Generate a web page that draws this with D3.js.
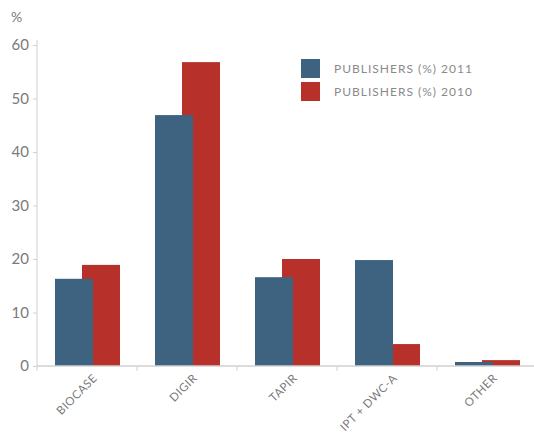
<!DOCTYPE html>
<html><head><meta charset="utf-8">
<script src="https://cdn.jsdelivr.net/npm/d3@7"></script>
<style>
body{margin:0;background:#fff;}
text{font-family:Lato,"Open Sans",sans-serif;}
</style></head>
<body><svg id="c" width="534" height="436"></svg>
<script>
const categories = ["BIOCASE","DIGIR","TAPIR","IPT + DWC-A","OTHER"];
const pub2011 = [16.3, 46.9, 16.6, 19.8, 0.75];
const pub2010 = [18.9, 56.8, 20.0, 4.1, 1.1];
const seriesNames = ["PUBLISHERS (%) 2011","PUBLISHERS (%) 2010"];
const yTicks = [0,10,20,30,40,50,60];
const colors = ["#3d6380","#b8302a"];

const svg = d3.select("#c");
const x = d3.scaleBand().domain(categories).range([37,537]);
const y = d3.scaleLinear().domain([0,60]).range([366,45]);
const bw = x.bandwidth();
const barW = bw*0.38;
const off2011 = bw*0.18, off2010 = bw*0.45;

// y axis
const ya = svg.append("g").attr("transform","translate(37,0)")
  .call(d3.axisLeft(y).tickValues(yTicks).tickSize(4).tickPadding(4));
ya.select(".domain").attr("d","M0,40V366").attr("stroke","#d0d0d0");
ya.selectAll(".tick line").attr("stroke","#d0d0d0");
ya.selectAll(".tick text").attr("fill","#7a7a7a").style("font-size","15px").style("font-family","Lato,sans-serif");

svg.append("text").attr("x",11).attr("y",22).text("%").attr("fill","#7a7a7a").style("font-size","14px");

// bars: 2010 below, 2011 on top
svg.append("g").selectAll("rect").data(categories).join("rect")
  .attr("x",(d)=>x(d)+off2010).attr("width",barW)
  .attr("y",(d,i)=>y(pub2010[i])).attr("height",(d,i)=>y(0)-y(pub2010[i]))
  .attr("fill",colors[1]);
svg.append("g").selectAll("rect").data(categories).join("rect")
  .attr("x",(d)=>x(d)+off2011).attr("width",barW)
  .attr("y",(d,i)=>y(pub2011[i])).attr("height",(d,i)=>y(0)-y(pub2011[i]))
  .attr("fill",colors[0]);

// x axis
const xa = svg.append("g").attr("transform","translate(0,366)")
  .call(d3.axisBottom(x).tickSize(0).tickPadding(0));
xa.select(".domain").attr("d","M37,0H534").attr("stroke","#d0d0d0").attr("stroke-width",1.5);
xa.selectAll(".tick text").remove();
xa.selectAll(".tick").each(function(d){
  const g = d3.select(this);
  g.append("line").attr("x1",-bw/2).attr("x2",-bw/2).attr("y1",0).attr("y2",5).attr("stroke","#d0d0d0");
  g.append("text").attr("transform","translate(8,10) rotate(-45)")
   .attr("text-anchor","end").attr("dy","0.35em")
   .attr("fill","#7a7a7a").style("font-size","11.5px").style("letter-spacing","0.5px")
   .text(d);
});

// legend
const lg = svg.append("g").attr("transform","translate(301,59)");
seriesNames.forEach((n,i)=>{
  lg.append("rect").attr("x",0).attr("y",i*23).attr("width",19).attr("height",19).attr("fill",colors[i]);
  lg.append("text").attr("x",33).attr("y",i*23+10).attr("dy","0.35em")
    .attr("fill","#8a8a8a").style("font-size","12px").style("letter-spacing","1px").text(n);
});
</script></body></html>
